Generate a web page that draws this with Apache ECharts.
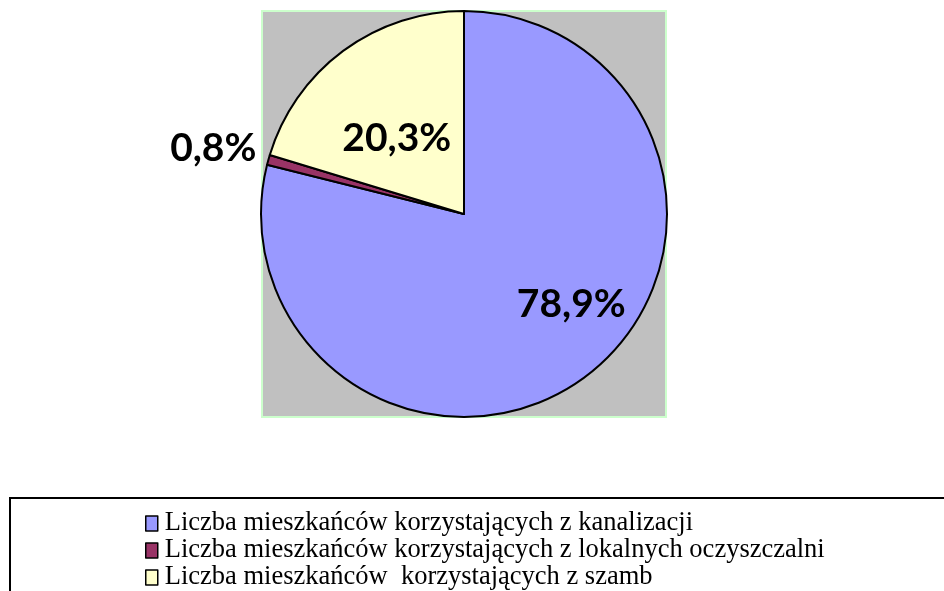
<!DOCTYPE html>
<html>
<head>
    <meta charset="utf-8">
    <title>ECharts</title>
    <script src="https://cdn.jsdelivr.net/npm/echarts@6/dist/echarts.min.js"></script>
    <style>
        html, body { margin: 0; padding: 0; background: #fff; }
        #main { width: 944px; height: 591px; }
    </style>
</head>
<body>
    <div id="main"></div>
    <script>
        // dane wykresu
        var categories = [
            'Liczba mieszkańców korzystających z kanalizacji',
            'Liczba mieszkańców korzystających z lokalnych oczyszczalni',
            'Liczba mieszkańców  korzystających z szamb'
        ];
        var values = [78.9, 0.8, 20.3];
        var colors = ['#9999FF', '#993366', '#FFFFCC'];
        // przesunięcia etykiet
        var labelShift = [[43, 8], [-150, -38], [-5, 8]];

        var myChart = echarts.init(document.getElementById('main'));
        var option = {
            animation: false,
            graphic: [
                {
                    type: 'rect',
                    shape: { x: 262, y: 11, width: 404, height: 406 },
                    style: { fill: '#C0C0C0', stroke: '#CCFFCC', lineWidth: 2 },
                    z: -1
                },
                {
                    type: 'rect',
                    shape: { x: 10, y: 498, width: 960, height: 120 },
                    style: { fill: '#fff', stroke: '#000', lineWidth: 2 },
                    z: -1
                }
            ],
            legend: {
                orient: 'vertical',
                left: 140,
                top: 505,
                height: 150,
                padding: 5,
                itemGap: 0,
                itemWidth: 12,
                itemHeight: 15,
                icon: 'rect',
                data: categories,
                itemStyle: { borderColor: '#000', borderWidth: 1.5 },
                textStyle: {
                    fontFamily: 'Liberation Serif',
                    fontSize: 26.5,
                    lineHeight: 26,
                    color: '#000',
                    padding: [0, 0, 0, 2]
                }
            },
            series: [{
                type: 'pie',
                center: [464, 214],
                radius: [0, 203],
                startAngle: 90,
                clockwise: true,
                silent: true,
                itemStyle: { borderColor: '#000', borderWidth: 2 },
                label: {
                    show: true,
                    position: 'inside',
                    formatter: function (p) {
                        return String(p.value.toFixed(1)).replace('.', ',') + '%';
                    },
                    fontFamily: 'Lato',
                    fontWeight: 'bold',
                    fontSize: 39,
                    color: '#000'
                },
                labelLayout: function (p) {
                    return { dx: labelShift[p.dataIndex][0], dy: labelShift[p.dataIndex][1] };
                },
                data: categories.map(function (c, i) {
                    return { name: c, value: values[i], itemStyle: { color: colors[i] } };
                })
            }]
        };
        myChart.setOption(option);
    </script>
</body>
</html>
